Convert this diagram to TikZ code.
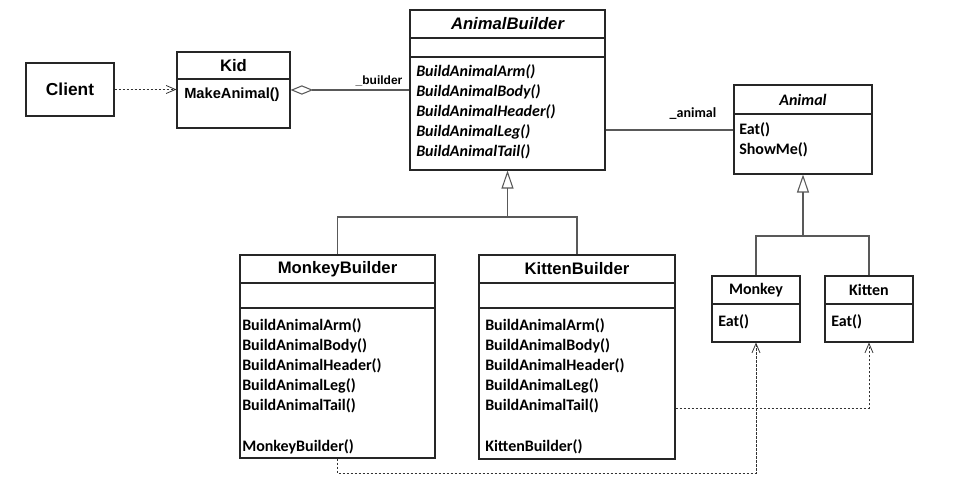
\documentclass[tikz,border=0pt]{standalone}
\usepackage{fontspec}
\setmainfont{Carlito}
\newfontfamily\arialfont{Liberation Sans}
\usetikzlibrary{arrows.meta,fit}

\tikzset{
  umlbox/.style={draw=black!85, line width=0.8pt, inner sep=0pt, fit={#1}},
  divider/.style={draw=black!85, line width=0.8pt},
  title/.style={font=\arialfont\bfseries\fontsize{12.5}{14}\selectfont, inner sep=0pt},
  ctitle/.style={font=\bfseries\fontsize{12}{14}\selectfont, inner sep=0pt},
  op/.style={font=\bfseries\fontsize{12}{14}\selectfont, anchor=base west, inner sep=0pt},
  iop/.style={op, font=\bfseries\itshape\fontsize{12}{14}\selectfont},
  conn/.style={draw=black!65, line width=0.8pt},
  gen/.style={conn, -{Triangle[open,length=13.5pt,width=9pt]}},
  aggr/.style={conn, {Diamond[open,length=17pt,width=7pt]}-},
  dep/.style={draw=black!80, line width=0.6pt, dash pattern=on 2pt off 1pt, -{Straight Barb[length=7pt,width=6pt]}}
}

\begin{document}
\begin{tikzpicture}[x=0.75pt,y=0.75pt,yscale=-1,xscale=1]
\useasboundingbox (0,0) rectangle (954,488);

%Shape: Client
\node[umlbox={(26,63) (114,116)}] (client) {};
% Text Node
\node[title, font=\arialfont\bfseries\fontsize{13}{15}\selectfont] (clientname) at (70,89.5) {Client};

%Shape: Kid
\node[umlbox={(177,52) (290,128)}] (kid) {};
\draw[divider] (kid.west |- 0,79) -- (kid.east |- 0,79);
% Text Node
\node[title] (kidname) at (233.5,65.5) {Kid};
\node[op, font=\arialfont\bfseries\fontsize{11}{13}\selectfont] (kidop) at (184,99) {MakeAnimal()};

%Shape: AnimalBuilder
\node[umlbox={(410,10) (605,170)}] (abuilder) {};
\draw[divider] (abuilder.west |- 0,38) -- (abuilder.east |- 0,38);
\draw[divider] (abuilder.west |- 0,57) -- (abuilder.east |- 0,57);
% Text Node
\node[title, font=\arialfont\bfseries\itshape\fontsize{12.5}{14}\selectfont] (abname) at (507.5,24) {AnimalBuilder};
\foreach \p [count=\i from 0] in {Arm,Body,Header,Leg,Tail}
  \node[iop] (abop\i) at (416,77+20*\i) {BuildAnimal\p()};

%Shape: Animal
\node[umlbox={(734,85) (872,174)}] (animal) {};
\draw[divider] (animal.west |- 0,114) -- (animal.east |- 0,114);
% Text Node
\node[ctitle, font=\bfseries\itshape\fontsize{12}{14}\selectfont] (animalname) at (803,99.5) {Animal};
\node[op] (animalop0) at (739,135) {Eat()};
\node[op] (animalop1) at (739,155) {ShowMe()};

%Shape: MonkeyBuilder
\node[umlbox={(240,255) (435,458)}] (mbuilder) {};
\draw[divider] (mbuilder.west |- 0,283) -- (mbuilder.east |- 0,283);
\draw[divider] (mbuilder.west |- 0,308) -- (mbuilder.east |- 0,308);
% Text Node
\node[title] (mbname) at (337.5,269) {MonkeyBuilder};
\foreach \p [count=\i from 0] in {Arm,Body,Header,Leg,Tail}
  \node[op] (mbop\i) at (242,331+20*\i) {BuildAnimal\p()};
\node[op] (mbctor) at (242,451) {MonkeyBuilder()};

%Shape: KittenBuilder
\node[umlbox={(479,255) (675,459)}] (kbuilder) {};
\draw[divider] (kbuilder.west |- 0,283) -- (kbuilder.east |- 0,283);
\draw[divider] (kbuilder.west |- 0,308) -- (kbuilder.east |- 0,308);
% Text Node
\node[title] (kbname) at (577,269) {KittenBuilder};
\foreach \p [count=\i from 0] in {Arm,Body,Header,Leg,Tail}
  \node[op] (kbop\i) at (485,331+20*\i) {BuildAnimal\p()};
\node[op] (kbctor) at (485,451) {KittenBuilder()};

%Shape: Monkey
\node[umlbox={(712,276) (800,342)}] (monkey) {};
\draw[divider] (monkey.west |- 0,304) -- (monkey.east |- 0,304);
\node[ctitle] (monkeyname) at (756,290) {Monkey};
\node[op] (monkeyop) at (718,327) {Eat()};

%Shape: Kitten
\node[umlbox={(825,276) (913,342)}] (kitten) {};
\draw[divider] (kitten.west |- 0,304) -- (kitten.east |- 0,304);
\node[ctitle] (kittenname) at (869,290) {Kitten};
\node[op] (kittenop) at (831,327) {Eat()};

%Connectors
\draw[dep] (client.east) -- (client.east -| kid.west);
\draw[aggr] (kid.east |- 0,90) -- (abuilder.west |- 0,90);
\node[font=\arialfont\bfseries\fontsize{9}{11}\selectfont, inner sep=0pt] (builderrole) at (379,81) {\_builder};
\draw[conn] (abuilder.east |- 0,130) -- (animal.west |- 0,130);
\node[font=\bfseries\fontsize{10.5}{12}\selectfont, inner sep=0pt] (animalrole) at (693,114) {\_animal};

\coordinate (abfork) at (abuilder.south |- 0,217);
\draw[gen] (abfork) -- (abuilder.south);
\draw[conn] (mbuilder.north) |- (abfork) -| (kbuilder.north);

\coordinate (afork) at (animal.south |- 0,236);
\draw[gen] (afork) -- (animal.south);
\draw[conn] (monkey.north) |- (afork) -| (kitten.north);

\draw[dep] (mbuilder.south) -- ++(0,15) -| (monkey.south);
\draw[dep] (kbuilder.east |- 0,408) -| (kitten.south);

\end{tikzpicture}
\end{document}
